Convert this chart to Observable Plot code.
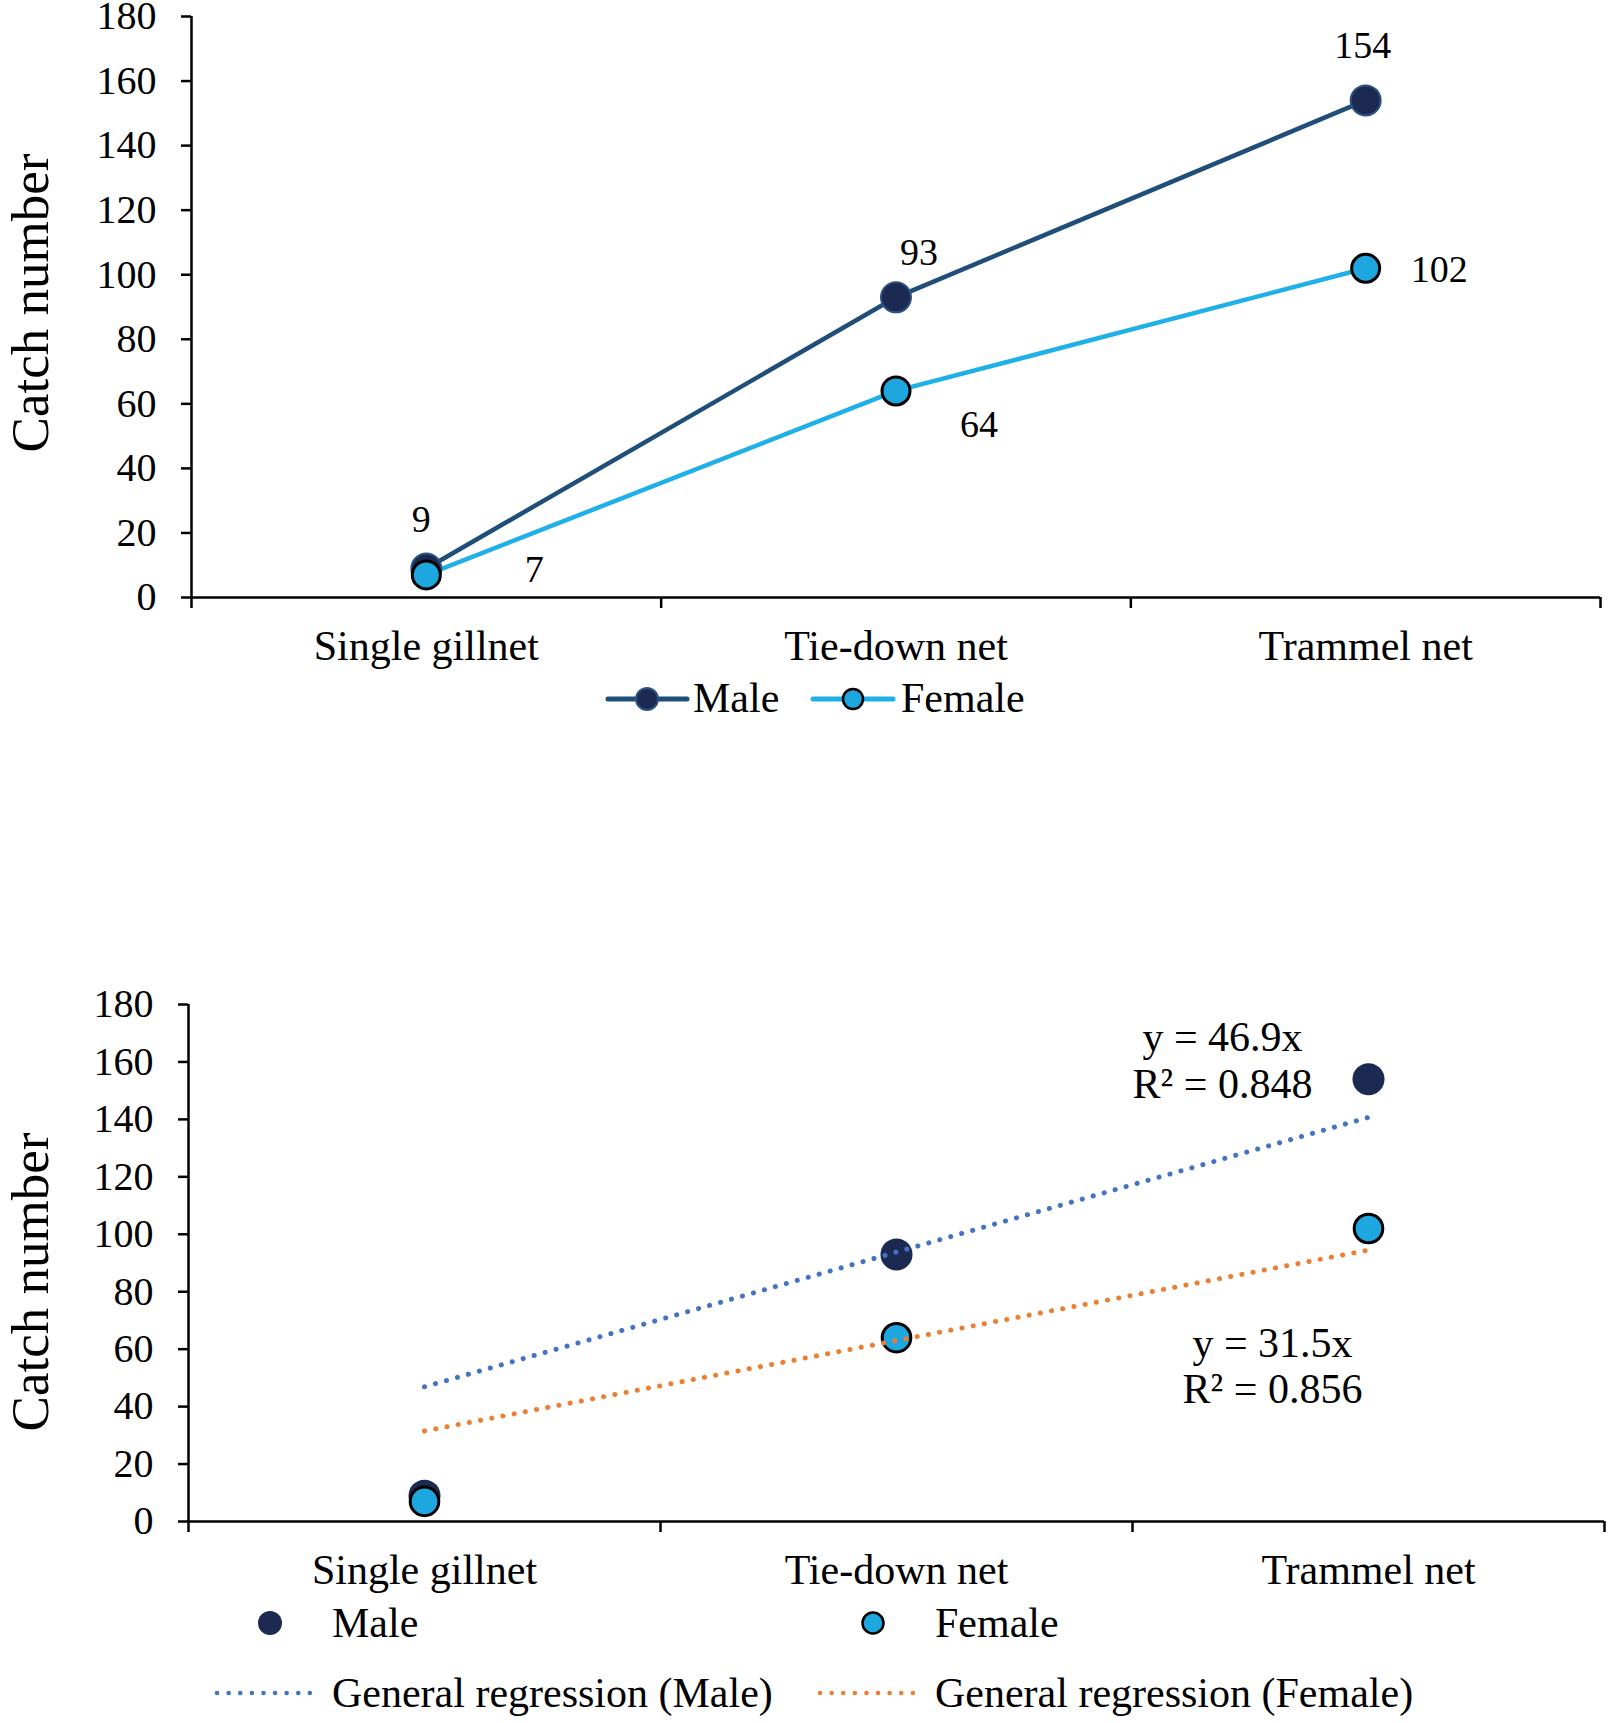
<!DOCTYPE html>
<html><head><meta charset="utf-8">
<script src="https://cdn.jsdelivr.net/npm/d3@7"></script>
<script src="https://cdn.jsdelivr.net/npm/@observablehq/plot@0.6"></script>
<style>
body{margin:0;background:#fff;}
#wrap{position:relative;width:1611px;height:1723px;font-family:"Liberation Serif","Times New Roman",serif;overflow:hidden;}
#wrap > *{position:absolute;left:0;}
</style></head><body><div id="wrap"></div>
<script>
// ---- data ----
const categories = ["Single gillnet", "Tie-down net", "Trammel net"];
const positions = [1, 2, 3];
const maleCatch = [9, 93, 154];
const femaleCatch = [7, 64, 102];
const yTicks = [0, 20, 40, 60, 80, 100, 120, 140, 160, 180];
const xBoundaries = [0.5, 1.5, 2.5, 3.5];
const seriesNames = ["Male", "Female"];
const regSlopes = [46.9, 31.5];
const regR2 = ["0.848", "0.856"];
const yTitle = "Catch number";

// ---- styles ----
const FONT = '"Liberation Serif","Times New Roman",serif';
const C = {
  maleLine: "#1f4e79", maleFill: "#1c2951", maleEdge: "#2c5282",
  femaleLine: "#1fb0e8", femaleFill: "#1ea6de",
  regMale: "#4472c4", regFemale: "#ed7d31"
};

const rows = positions.map((p, i) => ({pos: p, cat: categories[i], male: maleCatch[i], female: femaleCatch[i]}));
const regLines = seriesNames.flatMap((s, k) => [positions[0], positions[positions.length - 1]]
  .map(p => ({series: s, pos: p, value: regSlopes[k] * p})));
const regEnds = seriesNames.map((s, k) => ({series: s, pos: positions[positions.length - 1],
  value: regSlopes[k] * positions[positions.length - 1],
  label: `y = ${regSlopes[k]}x\nR² = ${regR2[k]}`}));

function axes() {
  return [
    Plot.axisY(yTicks, {tickSize: 10, tickPadding: 25, strokeWidth: 2.5, label: null, fontSize: 40}),
    Plot.axisX(xBoundaries, {tickSize: 11, tickFormat: () => "", strokeWidth: 2.5, label: null}),
    Plot.axisX(positions, {tickSize: 0, tickPadding: 33, tickFormat: d => categories[d - 1], fontSize: 42, label: null}),
    Plot.ruleY([0], {strokeWidth: 2.5}),
    Plot.ruleX([xBoundaries[0]], {strokeWidth: 2.5})
  ];
}

const baseStyle = {fontFamily: FONT, fontSize: "40px", color: "#000", background: "transparent", overflow: "visible"};

// ---- top chart ----
const lab = (key, i, o) => Plot.text([rows[i]], {x: "pos", y: key, text: d => String(d[key]), fontSize: 38, fill: "#000", ...o});
const topChart = Plot.plot({
  width: 1611, height: 680,
  marginLeft: 191, marginRight: 11, marginTop: 16, marginBottom: 83,
  x: {domain: [0.5, 3.5]}, y: {domain: [0, 180]},
  style: baseStyle,
  marks: [
    ...axes(),
    Plot.text([yTitle], {frameAnchor: "left", rotate: -90, dx: -144, dy: -4, lineAnchor: "bottom", textAnchor: "middle", fontSize: 53, fill: "#000"}),
    Plot.line(rows, {x: "pos", y: "male", stroke: C.maleLine, strokeWidth: 4.5}),
    Plot.line(rows, {x: "pos", y: "female", stroke: C.femaleLine, strokeWidth: 4.5}),
    Plot.dot(rows, {x: "pos", y: "male", r: 15, fill: C.maleFill, stroke: C.maleEdge, strokeWidth: 2}),
    Plot.dot(rows, {x: "pos", y: "female", r: 14, fill: C.femaleFill, stroke: "#000", strokeWidth: 3}),
    lab("male", 0, {dx: -5, dy: -49}),
    lab("female", 0, {dx: 108, dy: -5}),
    lab("male", 1, {dx: 23, dy: -44}),
    lab("female", 1, {dx: 83, dy: 34}),
    lab("male", 2, {dx: -3, dy: -55}),
    lab("female", 2, {dx: 45, dy: 2, textAnchor: "start"})
  ]
});
topChart.style.top = "0px";

// ---- bottom chart ----
const botChart = Plot.plot({
  width: 1611, height: 700,
  marginLeft: 188, marginRight: 7, marginTop: 104, marginBottom: 79,
  x: {domain: [0.5, 3.5]}, y: {domain: [0, 180]},
  style: baseStyle,
  marks: [
    ...axes(),
    Plot.text([yTitle], {frameAnchor: "left", rotate: -90, dx: -141, dy: 19, lineAnchor: "bottom", textAnchor: "middle", fontSize: 53, fill: "#000"}),
    Plot.dot(rows, {x: "pos", y: "male", r: 16, fill: C.maleFill}),
    Plot.dot(rows, {x: "pos", y: "female", r: 14.3, fill: C.femaleFill, stroke: "#000", strokeWidth: 3}),
    Plot.line(regLines, {filter: d => d.series === "Male", x: "pos", y: "value", stroke: C.regMale, strokeWidth: 5, strokeDasharray: "0.1 11.3", strokeLinecap: "round"}),
    Plot.line(regLines, {filter: d => d.series === "Female", x: "pos", y: "value", stroke: C.regFemale, strokeWidth: 5, strokeDasharray: "0.1 11.3", strokeLinecap: "round"}),
    Plot.text(regEnds, {filter: d => d.series === "Male", x: "pos", y: "value", text: "label", fontSize: 42, fill: "#000",
      textAnchor: "middle", lineAnchor: "bottom", lineHeight: 1.14, dx: -146, dy: -19}),
    Plot.text(regEnds, {filter: d => d.series === "Female", x: "pos", y: "value", text: "label", fontSize: 42, fill: "#000",
      textAnchor: "middle", lineAnchor: "bottom", lineHeight: 1.095, dx: -96, dy: 153})
  ]
});
botChart.style.top = "900px";

const wrap = document.getElementById("wrap");
wrap.appendChild(topChart);
wrap.appendChild(botChart);

// ---- legends (overlay) ----
const svg = d3.select(wrap).append("svg").attr("width", 1611).attr("height", 1723)
  .style("top", "0px").style("pointer-events", "none")
  .attr("font-family", FONT).attr("font-size", 42);

// top legend
const tl = [
  {name: seriesNames[0], x1: 608, x2: 687, cx: 647, tx: 693, line: C.maleLine, fill: C.maleFill, stroke: C.maleEdge, sw: 2, r: 11},
  {name: seriesNames[1], x1: 813, x2: 893, cx: 853, tx: 901, line: C.femaleLine, fill: C.femaleFill, stroke: "#000", sw: 2.5, r: 10}
];
tl.forEach(d => {
  svg.append("line").attr("x1", d.x1).attr("x2", d.x2).attr("y1", 699).attr("y2", 699)
    .attr("stroke", d.line).attr("stroke-width", 5).attr("stroke-linecap", "round");
  svg.append("circle").attr("cx", d.cx).attr("cy", 699).attr("r", d.r)
    .attr("fill", d.fill).attr("stroke", d.stroke).attr("stroke-width", d.sw);
  svg.append("text").attr("x", d.tx).attr("y", 712).text(d.name);
});

// bottom legend
const bl = [
  {name: seriesNames[0], cx: 270, tx: 332, fill: C.maleFill, stroke: "none", r: 12, x1: 217, x2: 313, reg: C.regMale},
  {name: seriesNames[1], cx: 873, tx: 935, fill: C.femaleFill, stroke: "#000", r: 10.5, x1: 820, x2: 918, reg: C.regFemale}
];
bl.forEach(d => {
  svg.append("circle").attr("cx", d.cx).attr("cy", 1623).attr("r", d.r)
    .attr("fill", d.fill).attr("stroke", d.stroke).attr("stroke-width", 2.5);
  svg.append("text").attr("x", d.tx).attr("y", 1637).text(d.name);
  svg.append("line").attr("x1", d.x1).attr("x2", d.x2).attr("y1", 1693).attr("y2", 1693)
    .attr("stroke", d.reg).attr("stroke-width", 4.5).attr("stroke-dasharray", "0.1 11.5").attr("stroke-linecap", "round");
  svg.append("text").attr("x", d.tx).attr("y", 1707).text(`General regression (${d.name})`);
});
</script>
</body></html>
